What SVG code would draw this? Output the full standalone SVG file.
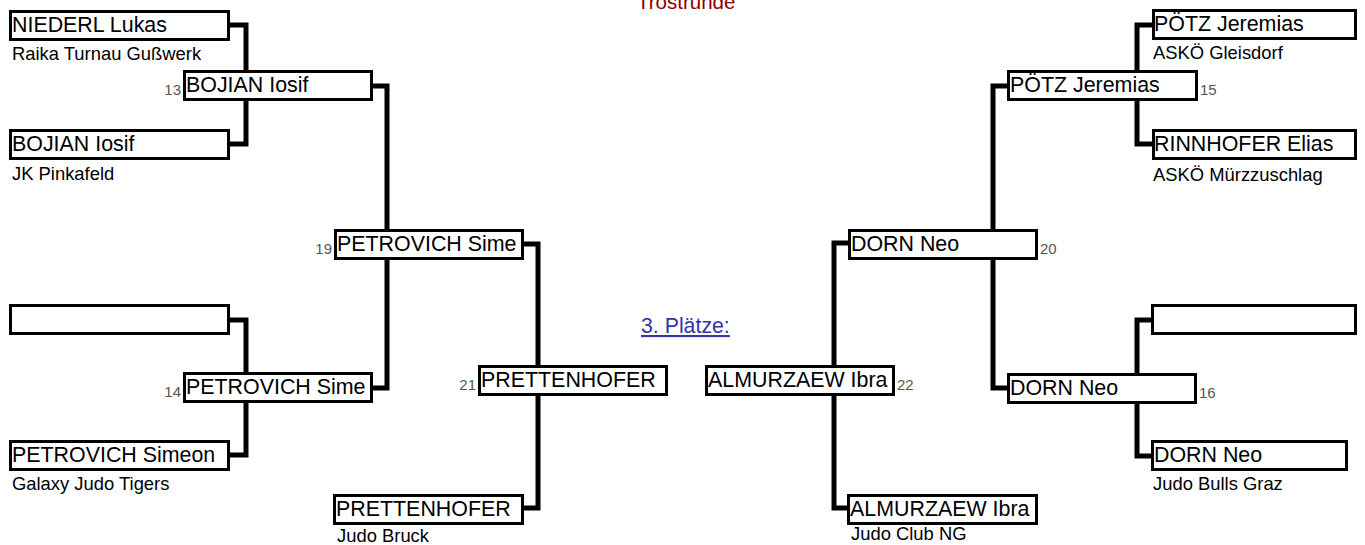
<svg xmlns="http://www.w3.org/2000/svg" width="1365" height="545" viewBox="0 0 1365 545">
<style>
.box{fill:#fff;stroke:#000;stroke-width:3}
.nm{font-family:"Liberation Sans",Arial,sans-serif;font-size:21.4px;fill:#000}
.cl{font-family:"Liberation Sans",Arial,sans-serif;font-size:18.4px;fill:#000}
.no{font-family:"Liberation Sans",Arial,sans-serif;font-size:15px;fill:#555}
.con{fill:none;stroke:#000;stroke-width:5;stroke-linejoin:miter;stroke-linecap:butt}
</style>
<rect width="1365" height="545" fill="#fff"/>
<text x="637" y="9" font-family="Liberation Sans, Arial, sans-serif" font-size="20.5" fill="#880000">Trostrunde</text>
<text x="641" y="333" font-family="Liberation Sans, Arial, sans-serif" font-size="21.3" fill="#3333aa" text-decoration="underline">3. Plätze:</text>
<g id="connectors">
<path class="con" d="M230,25 H246 V70"/>
<path class="con" d="M230,144 H246 V100"/>
<path class="con" d="M373,86 H387 V229"/>
<path class="con" d="M230,320 H246 V372"/>
<path class="con" d="M230,455 H246 V403"/>
<path class="con" d="M373,388 H387 V260"/>
<path class="con" d="M524,244 H538 V365"/>
<path class="con" d="M524,508 H538 V396"/>
<path class="con" d="M1152,25 H1137 V70"/>
<path class="con" d="M1152,144 H1137 V100"/>
<path class="con" d="M1007,86 H993 V229"/>
<path class="con" d="M1151,320 H1137 V373"/>
<path class="con" d="M1151,456 H1137 V404"/>
<path class="con" d="M1007,388 H993 V260"/>
<path class="con" d="M848,243 H834 V365"/>
<path class="con" d="M847,508 H834 V396"/>
</g>
<g id="n-niederl"><rect class="box" x="10.5" y="11.5" width="218" height="28"/><text class="nm" x="12" y="32">NIEDERL Lukas</text><text class="cl" x="12" y="60">Raika Turnau Gußwerk</text></g>
<g id="n-bojian1"><rect class="box" x="10.5" y="130.5" width="218" height="28"/><text class="nm" x="12" y="151">BOJIAN Iosif</text><text class="cl" x="12" y="180">JK Pinkafeld</text></g>
<g id="n-blank-l"><rect class="box" x="10.5" y="305.5" width="218" height="28"/></g>
<g id="n-petrovich1"><rect class="box" x="10.5" y="441.5" width="218" height="28"/><text class="nm" x="12" y="462">PETROVICH Simeon</text><text class="cl" x="12" y="490">Galaxy Judo Tigers</text></g>
<g id="n-13"><rect class="box" x="184.5" y="71.5" width="187" height="28"/><text class="nm" x="186" y="92">BOJIAN Iosif</text><text class="no" x="181" y="95" text-anchor="end">13</text></g>
<g id="n-14"><rect class="box" x="184.5" y="373.5" width="187" height="28"/><text class="nm" x="186" y="394">PETROVICH Sime</text><text class="no" x="181" y="397" text-anchor="end">14</text></g>
<g id="n-19"><rect class="box" x="335.5" y="230.5" width="187" height="28"/><text class="nm" x="337" y="251">PETROVICH Sime</text><text class="no" x="332" y="254" text-anchor="end">19</text></g>
<g id="n-21"><rect class="box" x="479.5" y="366.5" width="187" height="28"/><text class="nm" x="481" y="387">PRETTENHOFER</text><text class="no" x="476" y="390" text-anchor="end">21</text></g>
<g id="n-prettenhofer"><rect class="box" x="334.5" y="495.5" width="188" height="28"/><text class="nm" x="336" y="516">PRETTENHOFER</text><text class="cl" x="337" y="542">Judo Bruck</text></g>
<g id="n-poetz1"><rect class="box" x="1153.5" y="10.5" width="202" height="28"/><text class="nm" x="1154" y="31">PÖTZ Jeremias</text><text class="cl" x="1153" y="59">ASKÖ Gleisdorf</text></g>
<g id="n-rinnhofer"><rect class="box" x="1153.5" y="130.5" width="202" height="28"/><text class="nm" x="1154" y="151">RINNHOFER Elias</text><text class="cl" x="1153" y="181">ASKÖ Mürzzuschlag</text></g>
<g id="n-blank-r"><rect class="box" x="1152.5" y="305.5" width="203" height="28"/></g>
<g id="n-dorn1"><rect class="box" x="1152.5" y="441.5" width="194" height="28"/><text class="nm" x="1154" y="462">DORN Neo</text><text class="cl" x="1153" y="490">Judo Bulls Graz</text></g>
<g id="n-15"><rect class="box" x="1008.5" y="71.5" width="188" height="28"/><text class="nm" x="1010" y="92">PÖTZ Jeremias</text><text class="no" x="1200" y="95">15</text></g>
<g id="n-16"><rect class="box" x="1008.5" y="374.5" width="187" height="28"/><text class="nm" x="1010" y="395">DORN Neo</text><text class="no" x="1199" y="398">16</text></g>
<g id="n-20"><rect class="box" x="849.5" y="230.5" width="187" height="28"/><text class="nm" x="851" y="251">DORN Neo</text><text class="no" x="1040" y="254">20</text></g>
<g id="n-22"><rect class="box" x="706.5" y="366.5" width="187" height="28"/><text class="nm" x="708" y="387">ALMURZAEW Ibra</text><text class="no" x="897" y="390">22</text></g>
<g id="n-almurzaew"><rect class="box" x="848.5" y="495.5" width="188" height="28"/><text class="nm" x="850" y="516">ALMURZAEW Ibra</text><text class="cl" x="851" y="540">Judo Club NG</text></g>
</svg>
